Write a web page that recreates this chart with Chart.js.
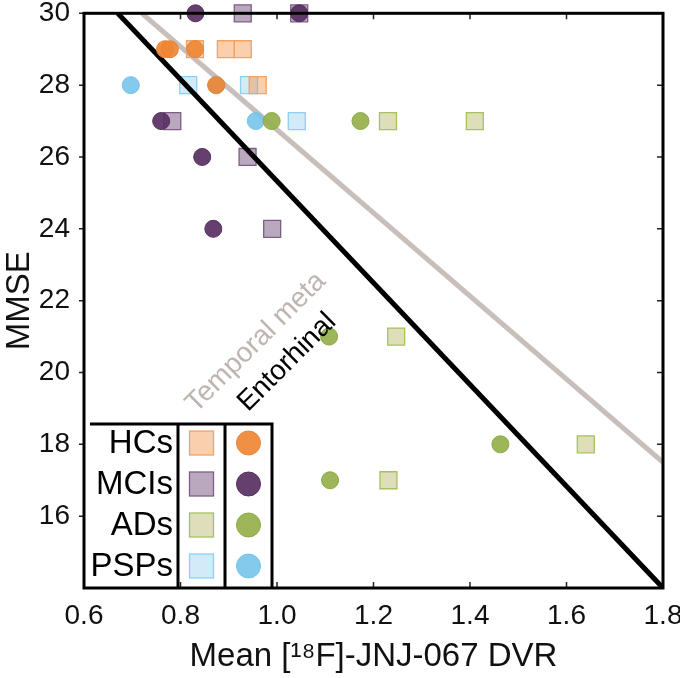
<!DOCTYPE html>
<html><head><meta charset="utf-8">
<script src="https://cdn.jsdelivr.net/npm/chart.js@4/dist/chart.umd.min.js"></script>
<style>html,body{margin:0;padding:0;background:#fff;}#wrap{width:680px;height:678px;}</style>
</head><body><div id="wrap"><canvas id="c" width="680" height="678"></canvas></div>
<script>
// ---------- data ----------
const groups = ['HCs', 'MCIs', 'ADs', 'PSPs'];
const xTickValues = [0.6, 0.8, 1.0, 1.2, 1.4, 1.6, 1.8];
const yTickValues = [16, 18, 20, 22, 24, 26, 28, 30];

const hcMMSE = [29, 29, 29, 28];
const hcEntorhinal = [0.768, 0.778, 0.830, 0.874];
const hcTemporal = [0.830, 0.894, 0.929, 0.960];

const mciMMSE = [30, 30, 27, 26, 24];
const mciEntorhinal = [0.831, 1.046, 0.760, 0.845, 0.868];
const mciTemporal = [0.929, 1.046, 0.783, 0.939, 0.990];

const adMMSE = [27, 27, 21, 18, 17];
const adEntorhinal = [0.989, 1.173, 1.108, 1.463, 1.110];
const adTemporal = [1.230, 1.410, 1.247, 1.640, 1.231];

const pspMMSE = [28, 28, 27];
const pspEntorhinal = [0.697, 0.874, 0.956];
const pspTemporal = [0.816, 0.942, 1.041];

const entorhinalFitX = [0.67, 1.80];
const entorhinalFitY = [30, 14];
const temporalFitX = [0.72, 1.80];
const temporalFitY = [30, 17.5];

const lineLabels = ['Temporal meta', 'Entorhinal'];
const lineLabelAnchorsX = [0.832, 0.940];
const lineLabelAnchorsY = [18.86, 18.89];

// ---------- styles ----------
const circleFill = ['rgba(239,135,52,0.92)', 'rgba(88,48,98,0.92)', 'rgba(152,178,80,0.95)', 'rgba(120,198,234,0.92)'];
const circleBorder = ['#E8832F', '#54305E', '#8BA843', '#74C3E8'];
const squareFill = ['rgba(242,140,62,0.42)', 'rgba(100,62,110,0.45)', 'rgba(190,190,120,0.5)', 'rgba(124,200,234,0.35)'];
const squareBorder = ['#F2A262', '#7E5E86', '#A6C25E', '#8ED0F0'];
const FONT = 'Liberation Sans, Arial, Helvetica, sans-serif';

const toPts = (xs, ys) => xs.map((v, i) => ({x: v, y: ys[i]}));
const sets = [
  [hcEntorhinal, hcTemporal, hcMMSE],
  [mciEntorhinal, mciTemporal, mciMMSE],
  [adEntorhinal, adTemporal, adMMSE],
  [pspEntorhinal, pspTemporal, pspMMSE]
];

const datasets = [];
sets.forEach((s, g) => {
  datasets.push({
    type: 'scatter', label: groups[g] + ' temporal', data: toPts(s[1], s[2]),
    pointStyle: 'rect', pointRadius: 12, pointHoverRadius: 12,
    backgroundColor: squareFill[g], borderColor: squareBorder[g], borderWidth: 1.3,
    order: 3, clip: false
  });
  datasets.push({
    type: 'scatter', label: groups[g] + ' entorhinal', data: toPts(s[0], s[2]),
    pointStyle: 'circle', pointRadius: 8.5, pointHoverRadius: 8.5,
    backgroundColor: circleFill[g], borderColor: circleBorder[g], borderWidth: 1,
    order: 1, clip: false
  });
});
datasets.push({
  type: 'line', label: 'Temporal fit', data: toPts(temporalFitX, temporalFitY),
  borderColor: '#C8BFBB', borderWidth: 5, pointRadius: 0, fill: false, order: 2
});
datasets.push({
  type: 'line', label: 'Entorhinal fit', data: toPts(entorhinalFitX, entorhinalFitY),
  borderColor: '#000000', borderWidth: 5, pointRadius: 0, fill: false, order: 2
});

const decor = {
  id: 'decor',
  afterDatasetsDraw(chart) {
    const {ctx, chartArea: a, scales: {x, y}} = chart;
    ctx.save();
    ctx.font = '28px ' + FONT;
    ctx.textAlign = 'left';
    ctx.textBaseline = 'alphabetic';
    const labelColors = ['#BEB5B0', '#000000'];
    lineLabels.forEach((t, i) => {
      ctx.save();
      ctx.translate(x.getPixelForValue(lineLabelAnchorsX[i]), y.getPixelForValue(lineLabelAnchorsY[i]));
      ctx.rotate(-Math.PI / 4);
      ctx.fillStyle = labelColors[i];
      ctx.fillText(t, 0, 0);
      ctx.restore();
    });

    const L = a.left;
    const topY = 424, colA = L + 94, colB = L + 141, colC = L + 188;
    ctx.strokeStyle = '#000'; ctx.lineWidth = 3;
    ctx.beginPath();
    ctx.moveTo(L + 6, topY); ctx.lineTo(colC + 1.5, topY);
    [colA, colB, colC].forEach(cx => { ctx.moveTo(cx, topY); ctx.lineTo(cx, a.bottom); });
    ctx.stroke();
    ctx.font = '33px ' + FONT;
    ctx.textAlign = 'right'; ctx.textBaseline = 'middle';
    groups.forEach((gname, g) => {
      const cy = 443 + g * 41;
      ctx.fillStyle = '#000';
      ctx.fillText(gname, colA - 5, cy + 1);
      const sx = (colA + colB) / 2, s = 24;
      ctx.fillStyle = '#fff'; ctx.fillRect(sx - s / 2, cy - s / 2, s, s);
      ctx.fillStyle = squareFill[g]; ctx.fillRect(sx - s / 2, cy - s / 2, s, s);
      ctx.strokeStyle = squareBorder[g]; ctx.lineWidth = 1.3;
      ctx.strokeRect(sx - s / 2, cy - s / 2, s, s);
      const ccx = (colB + colC) / 2;
      ctx.beginPath(); ctx.arc(ccx, cy, 12, 0, Math.PI * 2);
      ctx.fillStyle = circleFill[g]; ctx.fill();
      ctx.strokeStyle = circleBorder[g]; ctx.lineWidth = 1; ctx.stroke();
    });

    ctx.strokeStyle = '#222'; ctx.lineWidth = 1.5;
    ctx.beginPath();
    xTickValues.slice(1, -1).forEach(v => {
      const px = x.getPixelForValue(v);
      ctx.moveTo(px, a.bottom); ctx.lineTo(px, a.bottom - 6);
      ctx.moveTo(px, a.top); ctx.lineTo(px, a.top + 6);
    });
    yTickValues.forEach(v => {
      const py = y.getPixelForValue(v);
      ctx.moveTo(a.left, py); ctx.lineTo(a.left - 5, py);
      if (v < 30) { ctx.moveTo(a.right, py); ctx.lineTo(a.right - 6, py); }
    });
    ctx.stroke();
    ctx.strokeStyle = '#000'; ctx.lineWidth = 3;
    ctx.strokeRect(a.left, a.top, a.right - a.left, a.bottom - a.top);
    ctx.restore();
  }
};

new Chart(document.getElementById('c'), {
  type: 'scatter',
  data: {datasets},
  options: {
    responsive: false, animation: false, devicePixelRatio: 1,
    layout: {padding: {top: 12, right: 17, left: 0, bottom: 0}},
    plugins: {legend: {display: false}, tooltip: {enabled: false}},
    scales: {
      x: {
        type: 'linear', min: 0.6, max: 1.8,
        afterBuildTicks: s => { s.ticks = xTickValues.map(v => ({value: v})); },
        afterFit: s => { s.height = 90; s.paddingLeft = 0; s.paddingRight = 0; },
        grid: {display: false}, border: {display: false},
        ticks: {color: '#111', font: {family: FONT, size: 28}, padding: 3,
          callback: v => Number(v).toFixed(1), maxRotation: 0, autoSkip: false},
        title: {display: true, text: 'Mean [¹⁸F]-JNJ-067 DVR', color: '#111',
          font: {family: FONT, size: 33}, padding: {top: 0, bottom: 1}}
      },
      y: {
        type: 'linear', min: 14, max: 30,
        afterBuildTicks: s => { s.ticks = yTickValues.map(v => ({value: v})); },
        afterFit: s => { s.width = 84; s.paddingTop = 0; s.paddingBottom = 0; },
        grid: {display: false}, border: {display: false},
        ticks: {color: '#111', font: {family: FONT, size: 28}, padding: 6, autoSkip: false},
        title: {display: true, text: 'MMSE', color: '#111',
          font: {family: FONT, size: 33}, padding: {top: 0, bottom: 0}}
      }
    }
  },
  plugins: [decor]
});
</script></body></html>
